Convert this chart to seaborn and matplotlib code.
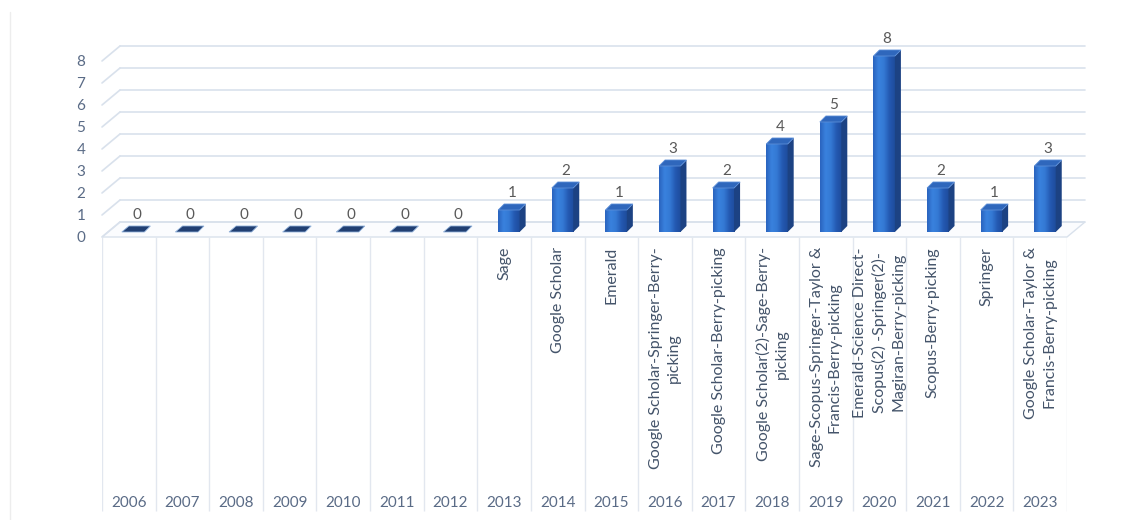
import numpy as np
import pandas as pd
import matplotlib
matplotlib.use("Agg")
import matplotlib.pyplot as plt
import seaborn as sns
from matplotlib.patches import Polygon
from matplotlib.colors import LinearSegmentedColormap

# ---------------- data ----------------
years = ['2006', '2007', '2008', '2009', '2010', '2011', '2012', '2013', '2014',
         '2015', '2016', '2017', '2018', '2019', '2020', '2021', '2022', '2023']
counts = [0, 0, 0, 0, 0, 0, 0, 1, 2, 1, 3, 2, 4, 5, 8, 2, 1, 3]
sources = ['', '', '', '', '', '', '',
           'Sage',
           'Google Scholar',
           'Emerald',
           'Google Scholar-Springer-Berry-\npicking',
           'Google Scholar-Berry-picking',
           'Google Scholar(2)-Sage-Berry-\npicking',
           'Sage-Scopus-Springer-Taylor &\nFrancis-Berry-picking',
           'Emerald-Science Direct-\nScopus(2) -Springer(2)-\nMagiran-Berry-picking',
           'Scopus-Berry-picking',
           'Springer',
           'Google Scholar-Taylor &\nFrancis-Berry-picking']
y_ticks = [0, 1, 2, 3, 4, 5, 6, 7, 8]

df = pd.DataFrame({'year': years, 'count': counts})

# ---------------- style ----------------
sns.set_theme(style='white')
plt.rcParams['font.family'] = ['Lato', 'DejaVu Sans']

W, H = 1147, 520
fig = plt.figure(figsize=(W / 100, H / 100), dpi=100)
fig.patch.set_facecolor('white')

px_x0, px_x1 = 102, 1067
unit_x = (px_x1 - px_x0) / len(years)
unit_y = 22.0
base_px = 232
ax_bottom_px, ax_top_px = 237, 40

ax = fig.add_axes([px_x0 / W, 1 - ax_bottom_px / H,
                   (px_x1 - px_x0) / W, (ax_bottom_px - ax_top_px) / H])
ax.set_facecolor('none')

sns.barplot(data=df, x='year', y='count', color='#2E6CC8', width=0.4,
            ax=ax, zorder=3, saturation=1)

xlim = (-0.5, len(years) - 0.5)
ylim = (-(ax_bottom_px - base_px) / unit_y, (base_px - ax_top_px) / unit_y)

# perspective offsets (in data units)
dxb = 18 / unit_x     # back wall x shift
dyb = 10 / unit_y     # back wall y shift
dyf = -5 / unit_y     # front plane y shift
bdx = 6 / unit_x      # bar depth x
bdy = 6 / unit_y      # bar depth y

grid_c = '#D9E1EC'
# floor
floor = Polygon([(xlim[0], dyf), (xlim[1], dyf), (xlim[1] + dxb, dyb),
                 (xlim[0] + dxb, dyb)], closed=True, facecolor='#FBFCFE',
                edgecolor=grid_c, lw=1.0, zorder=1, clip_on=False)
ax.add_patch(floor)
# gridlines: back wall + left slanted wall segment
for v in y_ticks:
    ax.plot([xlim[0] + dxb, xlim[1] + dxb], [v + dyb, v + dyb], color=grid_c,
            lw=1.2, zorder=1, clip_on=False)
    ax.plot([xlim[0], xlim[0] + dxb], [v + dyf, v + dyb], color=grid_c,
            lw=1.2, zorder=1, clip_on=False)

front_cmap = LinearSegmentedColormap.from_list(
    'front', ['#2A63BE', '#3A82DE', '#3479D4', '#2459B2', '#1E4C9C'])
grad = np.linspace(0, 1, 64).reshape(1, -1)

for p, v in zip(ax.patches, counts):
    x0 = p.get_x() + 0.09
    p.set_x(x0)
    w = p.get_width()
    h = p.get_height()
    if h > 0:
        p.set_edgecolor('none')
        ax.imshow(grad, extent=[x0, x0 + w, 0, h], aspect='auto',
                  cmap=front_cmap, zorder=3.1, interpolation='bicubic')
        side = Polygon([(x0 + w, 0), (x0 + w + bdx, bdy),
                        (x0 + w + bdx, h + bdy), (x0 + w, h)], closed=True,
                       facecolor='#1C4283', edgecolor='none', zorder=3.2)
        ax.add_patch(side)
        top = Polygon([(x0, h), (x0 + w, h), (x0 + w + bdx, h + bdy),
                       (x0 + bdx, h + bdy)], closed=True,
                      facecolor='#2F67BC', edgecolor='#5B8ED8', lw=0.6,
                      zorder=3.3)
    else:
        top = Polygon([(x0 - 0.02, h), (x0 + w, h), (x0 + w + bdx, h + bdy),
                       (x0 + bdx, h + bdy)], closed=True,
                      facecolor='#213F72', edgecolor='#8FB0DA', lw=0.6,
                      zorder=3.3)
    ax.add_patch(top)
    ax.annotate(str(v), (x0 + w / 2 + bdx / 2, h + bdy), xytext=(0, 3),
                textcoords='offset points', ha='center', va='bottom',
                fontsize=11, color='#595959', zorder=5)

ax.set_xlim(*xlim)
ax.set_ylim(*ylim)
ax.set_yticks([v + dyf for v in y_ticks], labels=[str(v) for v in y_ticks])
ax.tick_params(axis='y', length=0, pad=12, labelsize=11, labelcolor='#5A6B86')
ax.set_xticks([])
ax.set_xlabel('')
ax.set_ylabel('')
for s in ax.spines.values():
    s.set_visible(False)

# ---------------- category table ----------------
tb_top, tb_bot = 237, 515
ax2 = fig.add_axes([px_x0 / W, 1 - tb_bot / H, (px_x1 - px_x0) / W,
                    (tb_bot - tb_top) / H])
ax2.set_facecolor('none')
ax2.set_xlim(*xlim)
ax2.set_ylim(tb_bot, tb_top)
ax2.vlines(np.arange(len(years) + 1) - 0.5, tb_top, 511, color='#E2E7EF',
           lw=1.0)
for i, (yr, src) in enumerate(zip(years, sources)):
    if src:
        ax2.text(i, 247, src, rotation=90, ha='center', va='top',
                 multialignment='center', fontsize=11.5, color='#44546A',
                 linespacing=1.38)
    ax2.text(i, 503, yr, ha='center', va='center', fontsize=11,
             color='#5A6B86')
ax2.axis('off')

# faint left frame line
fig.add_artist(plt.Line2D([10 / W, 10 / W], [0, 1 - 12 / H],
                          color='#EDEDED', lw=1.0))

fig.savefig('out.png', dpi=100, facecolor='white')
